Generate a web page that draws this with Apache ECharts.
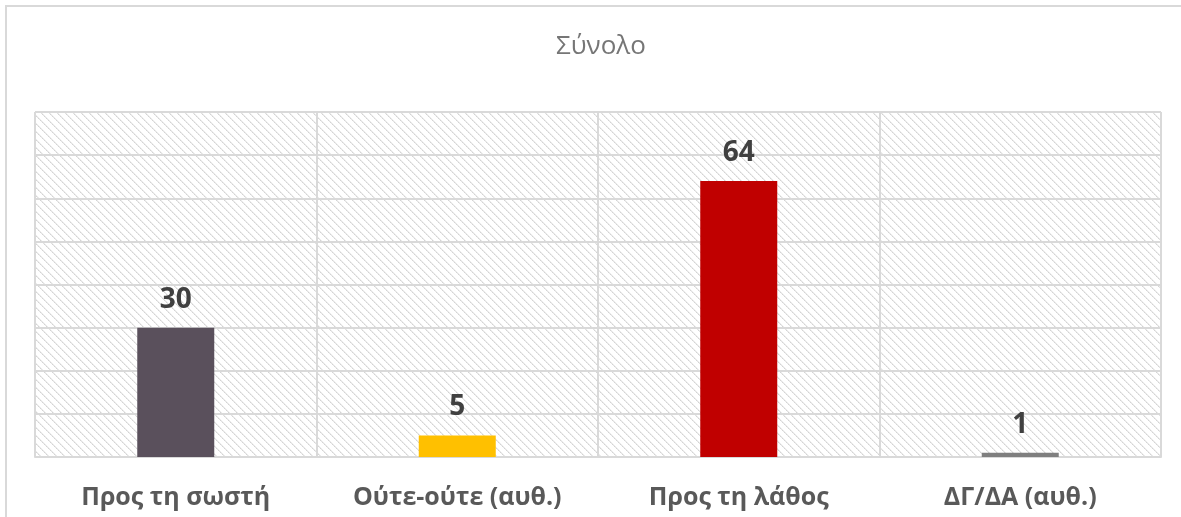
<!DOCTYPE html>
<html>
<head>
<meta charset="utf-8">
<script src="https://cdn.jsdelivr.net/npm/echarts@6/dist/echarts.min.js"></script>
<style>
    html, body { margin: 0; padding: 0; background: #ffffff; }
    #frame { position: absolute; left: 5px; top: 5px; width: 1176px; height: 512px;
             border-left: 2px solid #d9d9d9; border-top: 2px solid #d9d9d9; box-sizing: border-box; }
    #chart { position: absolute; left: 0; top: 0; width: 1181px; height: 517px; }
</style>
</head>
<body>
<div id="frame"></div>
<div id="chart"></div>
<script>
var categories = ["Προς τη σωστή", "Ούτε-ούτε (αυθ.)", "Προς τη λάθος", "ΔΓ/ΔΑ (αυθ.)"];
var values = [30, 5, 64, 1];
var barColors = ["#5a505c", "#ffc000", "#c00000", "#7f7f7f"];

// diagonal hatch tile for the plot background
function hatchTile() {
    var c = document.createElement("canvas");
    c.width = 8;
    c.height = 8;
    var ctx = c.getContext("2d");
    ctx.fillStyle = "#ffffff";
    ctx.fillRect(0, 0, 8, 8);
    for (var i = 0; i < 8; i++) {
        ctx.fillStyle = (i % 2 === 0) ? "#d4d4d4" : "#e2e2e2";
        ctx.fillRect(i, i, 1, 1);
        ctx.fillStyle = "#ececec";
        ctx.fillRect((i + 1) % 8, i, 1, 1);
    }
    return c;
}

var chart = echarts.init(document.getElementById("chart"));
var option = {
    animation: false,
    title: {
        text: "Σύνολο",
        left: 551,
        top: 29,
        textStyle: {
            color: "#767676",
            fontSize: 26,
            fontWeight: "normal",
            fontFamily: "Open Sans"
        }
    },
    grid: {
        left: 35,
        right: 20,
        top: 112,
        bottom: 60,
        show: true,
        borderWidth: 0,
        backgroundColor: { image: hatchTile(), repeat: "repeat" }
    },
    xAxis: {
        type: "category",
        data: categories,
        axisTick: { show: false },
        axisLine: { lineStyle: { color: "#d9d9d9", width: 2 } },
        splitLine: { show: true, lineStyle: { color: "#d9d9d9", width: 2 } },
        axisLabel: {
            margin: 28,
            color: "#595959",
            fontSize: 25,
            fontWeight: "bold",
            fontFamily: "Open Sans"
        }
    },
    yAxis: {
        type: "value",
        min: 0,
        max: 80,
        interval: 10,
        axisLabel: { show: false },
        axisLine: { show: false },
        axisTick: { show: false },
        splitLine: { lineStyle: { color: "#d9d9d9", width: 2 } }
    },
    series: [
        {
            type: "bar",
            barWidth: 77,
            data: values.map(function (v, i) {
                return { value: v, itemStyle: { color: barColors[i] } };
            }),
            label: {
                show: true,
                position: "top",
                distance: 14,
                color: "#404040",
                fontSize: 28,
                fontWeight: "bold",
                fontFamily: "Open Sans"
            }
        }
    ]
};
chart.setOption(option);
</script>
</body>
</html>
